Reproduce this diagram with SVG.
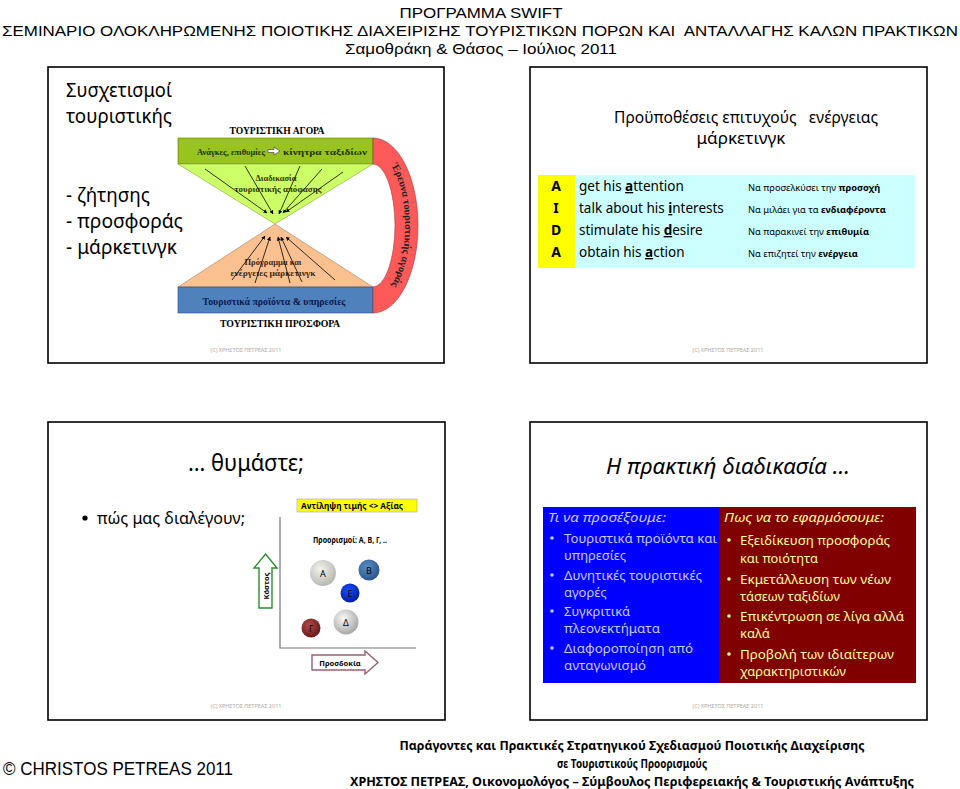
<svg xmlns="http://www.w3.org/2000/svg" width="960" height="789" viewBox="0 0 960 789">
<defs>
<style>
.hdr{font-family:"Liberation Sans",Arial,sans-serif;font-size:15.5px;fill:#000}
.cal{font-family:"Noto Sans","Open Sans",sans-serif;fill:#000}
.ser{font-family:"Liberation Serif","Times New Roman",serif;font-weight:bold}
.slide{fill:#fff;stroke:#000;stroke-width:1.6}
.copy{font-family:"Noto Sans",sans-serif;font-size:5.5px;fill:#aaa;text-anchor:middle}
.arr{stroke:#000;stroke-width:0.8;fill:none;marker-end:url(#ah)}
.b{font-weight:bold}
</style>
<marker id="ah" viewBox="0 0 10 10" refX="9" refY="5" markerWidth="5" markerHeight="5" orient="auto"><path d="M0,0 L10,5 L0,10 Z" fill="#000"/></marker>
<radialGradient id="gA" cx="40%" cy="35%" r="65%"><stop offset="0" stop-color="#f4f4f0"/><stop offset="1" stop-color="#b8b8b0"/></radialGradient>
<radialGradient id="gB" cx="40%" cy="35%" r="65%"><stop offset="0" stop-color="#5a8cc8"/><stop offset="1" stop-color="#2c5690"/></radialGradient>
<radialGradient id="gE" cx="40%" cy="35%" r="65%"><stop offset="0" stop-color="#1a4cff"/><stop offset="1" stop-color="#0020a0"/></radialGradient>
<radialGradient id="gD" cx="40%" cy="35%" r="65%"><stop offset="0" stop-color="#f8f8f8"/><stop offset="1" stop-color="#a8a8a8"/></radialGradient>
<radialGradient id="gG" cx="40%" cy="35%" r="65%"><stop offset="0" stop-color="#b04a4a"/><stop offset="1" stop-color="#6a1a1a"/></radialGradient>
</defs>
<rect width="960" height="789" fill="#fff"/>

<g id="header">
<text class="hdr" x="481" y="18" text-anchor="middle" textLength="163" lengthAdjust="spacingAndGlyphs">ΠΡΟΓΡΑΜΜΑ SWIFT</text>
<text class="hdr" x="480" y="36" text-anchor="middle" textLength="956" lengthAdjust="spacingAndGlyphs" xml:space="preserve">ΣΕΜΙΝΑΡΙΟ ΟΛΟΚΛΗΡΩΜΕΝΗΣ ΠΟΙΟΤΙΚΗΣ ΔΙΑΧΕΙΡΙΣΗΣ ΤΟΥΡΙΣΤΙΚΩΝ ΠΟΡΩΝ ΚΑΙ  ΑΝΤΑΛΛΑΓΗΣ ΚΑΛΩΝ ΠΡΑΚΤΙΚΩΝ</text>
<text class="hdr" x="481" y="54" text-anchor="middle" textLength="272" lengthAdjust="spacingAndGlyphs">Σαμοθράκη &amp; Θάσος – Ιούλιος 2011</text>
</g>

<!-- Slide 1 -->
<g id="slide1">
<rect class="slide" x="48" y="67" width="396" height="296"/>
<text class="cal" x="66" y="97" font-size="20" textLength="106" lengthAdjust="spacingAndGlyphs">Συσχετισμοί</text>
<text class="cal" x="66" y="123" font-size="20" textLength="106" lengthAdjust="spacingAndGlyphs">τουριστικής</text>
<text class="cal" x="66" y="202" font-size="20" textLength="84" lengthAdjust="spacingAndGlyphs">- ζήτησης</text>
<text class="cal" x="66" y="228" font-size="20" textLength="117" lengthAdjust="spacingAndGlyphs">- προσφοράς</text>
<text class="cal" x="66" y="254" font-size="20" textLength="111" lengthAdjust="spacingAndGlyphs">- μάρκετινγκ</text>
<text class="copy" x="246" y="352">(C) ΧΡΗΣΤΟΣ ΠΕΤΡΕΑΣ 2011</text>
</g>

<g id="market">
<text class="ser" x="277" y="134" font-size="10" text-anchor="middle" textLength="95" lengthAdjust="spacingAndGlyphs">ΤΟΥΡΙΣΤΙΚΗ ΑΓΟΡΑ</text>
<rect x="178" y="138" width="195" height="26" fill="#99c31e" stroke="#5a7a10" stroke-width="0.6"/>
<text class="ser" x="197" y="155" font-size="9" fill="#1a3300" textLength="68" lengthAdjust="spacingAndGlyphs">Ανάγκες, επιθυμίες</text>
<path d="M268,149.5 h6 v-2.5 l6,4 l-6,4 v-2.5 h-6 Z" fill="#fff" stroke="#333" stroke-width="0.6"/>
<text class="ser" x="283" y="155" font-size="9" fill="#1a3300" textLength="84" lengthAdjust="spacingAndGlyphs">κίνητρα ταξιδίων</text>
</g>

<g id="decision">
<polygon points="178,164 373,164 275,224" fill="#ccff66" stroke="#8aa040" stroke-width="0.6"/>
<text class="ser" x="276" y="181" font-size="8.5" fill="#333300" text-anchor="middle">Διαδικασία</text>
<text class="ser" x="278" y="192" font-size="8.5" fill="#333300" text-anchor="middle" textLength="87" lengthAdjust="spacingAndGlyphs">τουριστικής απόφασης</text>
</g>

<g id="program">
<polygon points="178,287 373,287 275,224" fill="#fac090" stroke="#b08060" stroke-width="0.6"/>
<text class="ser" x="273" y="265" font-size="8.5" fill="#3a2a10" text-anchor="middle">Πρόγραμμα και</text>
<text class="ser" x="273" y="276" font-size="8.5" fill="#3a2a10" text-anchor="middle" textLength="85" lengthAdjust="spacingAndGlyphs">ενέργειες μάρκετινγκ</text>
</g>

<g id="supply">
<rect x="178" y="287" width="195" height="26" fill="#4f81bd" stroke="#2a4a80" stroke-width="0.6"/>
<text class="ser" x="274" y="305" font-size="10.5" fill="#0a1850" text-anchor="middle" textLength="143" lengthAdjust="spacingAndGlyphs">Τουριστικά προϊόντα &amp; υπηρεσίες</text>
<text class="ser" x="280" y="327" font-size="10" text-anchor="middle" textLength="120" lengthAdjust="spacingAndGlyphs">ΤΟΥΡΙΣΤΙΚΗ ΠΡΟΣΦΟΡΑ</text>
</g>

<g id="research">
<path d="M373,138 A45,87.5 0 0 1 373,313 L373,287 A22,61.5 0 0 0 373,164 Z" fill="#ff5a5a" stroke="#a03030" stroke-width="0.6"/>
<path id="midarc" d="M373,150 A34.5,75.5 0 0 1 373,301" fill="none"/>
<text class="ser" font-size="10.5" fill="#222"><textPath href="#midarc" startOffset="50%" text-anchor="middle" dominant-baseline="middle">Έρευνα τουριστικής αγοράς</textPath></text>
</g>

<g id="connectors">
<line class="arr" x1="205" y1="169" x2="267" y2="213"/>
<line class="arr" x1="245" y1="166" x2="273" y2="214"/>
<line class="arr" x1="300" y1="166" x2="279" y2="214"/>
<line class="arr" x1="322" y1="169" x2="283" y2="213"/>
<line class="arr" x1="343" y1="172" x2="286" y2="212"/>
<line class="arr" x1="232" y1="280" x2="265" y2="236"/>
<line class="arr" x1="255" y1="283" x2="270" y2="237"/>
<line class="arr" x1="290" y1="283" x2="278" y2="237"/>
<line class="arr" x1="302" y1="282" x2="281" y2="237"/>
<line class="arr" x1="335" y1="280" x2="286" y2="237"/>
</g>

<!-- Slide 2 -->
<g id="slide2">
<rect class="slide" x="530" y="67" width="397" height="296"/>
<text class="cal" x="746" y="123" font-size="16" text-anchor="middle" textLength="264" lengthAdjust="spacingAndGlyphs" xml:space="preserve">Προϋποθέσεις επιτυχούς   ενέργειας</text>
<text class="cal" x="741" y="144" font-size="16" text-anchor="middle" textLength="89" lengthAdjust="spacingAndGlyphs">μάρκετινγκ</text>
<rect x="538" y="175" width="37" height="93" fill="#ffff00"/>
<rect x="575" y="175" width="340" height="93" fill="#ccffff"/>
<g class="cal" font-size="14">
<text class="b" x="556" y="191" text-anchor="middle">A</text>
<text class="b" x="556" y="213" text-anchor="middle">I</text>
<text class="b" x="556" y="235" text-anchor="middle">D</text>
<text class="b" x="556" y="257" text-anchor="middle">A</text>
<text x="579" y="191" font-size="13.5">get his <tspan class="b" text-decoration="underline">a</tspan>ttention</text>
<text x="579" y="213" font-size="13.5">talk about his <tspan class="b" text-decoration="underline">i</tspan>nterests</text>
<text x="579" y="235" font-size="13.5">stimulate his <tspan class="b" text-decoration="underline">d</tspan>esire</text>
<text x="579" y="257" font-size="13.5">obtain his <tspan class="b" text-decoration="underline">a</tspan>ction</text>
<text x="748" y="191" font-size="9.3">Να προσελκύσει την <tspan class="b">προσοχή</tspan></text>
<text x="748" y="213" font-size="9.3">Να μιλάει για τα <tspan class="b">ενδιαφέροντα</tspan></text>
<text x="748" y="235" font-size="9.3">Να παρακινεί την <tspan class="b">επιθυμία</tspan></text>
<text x="748" y="257" font-size="9.3">Να επιζητεί την <tspan class="b">ενέργεια</tspan></text>
</g>
<text class="copy" x="728" y="352">(C) ΧΡΗΣΤΟΣ ΠΕΤΡΕΑΣ 2011</text>
</g>

<!-- Slide 3 -->
<g id="slide3">
<rect class="slide" x="48" y="422" width="397" height="298"/>
<text class="cal" x="246" y="471" font-size="23" text-anchor="middle" textLength="116" lengthAdjust="spacingAndGlyphs">… θυμάστε;</text>
<circle cx="85" cy="518" r="2.6" fill="#000"/>
<text class="cal" x="97" y="524" font-size="16" textLength="148" lengthAdjust="spacingAndGlyphs">πώς μας διαλέγουν;</text>
<rect x="297" y="499" width="120" height="13" fill="#ffff00" stroke="#999" stroke-width="0.5"/>
<text class="cal b" x="301" y="509" font-size="8.5" textLength="102" lengthAdjust="spacingAndGlyphs">Αντίληψη τιμής &lt;&gt; Αξίας</text>
<polyline points="280,517 280,648 416,648" fill="none" stroke="#777" stroke-width="1.2"/>
<text class="cal b" x="350" y="543" font-size="8" text-anchor="middle" textLength="74" lengthAdjust="spacingAndGlyphs">Προορισμοί: Α, Β, Γ, ..</text>
<circle cx="323" cy="573" r="13" fill="url(#gA)"/>
<text class="cal" x="323" y="577" font-size="9" text-anchor="middle">Α</text>
<circle cx="369" cy="570" r="10.5" fill="url(#gB)"/>
<text class="cal" x="369" y="574" font-size="9" text-anchor="middle" fill="#cfe0f5">Β</text>
<circle cx="350" cy="593" r="9.5" fill="url(#gE)"/>
<text class="cal" x="350" y="597" font-size="9" text-anchor="middle" fill="#183070">Ε</text>
<circle cx="346" cy="622" r="12.5" fill="url(#gD)"/>
<text class="cal" x="346" y="626" font-size="9" text-anchor="middle">Δ</text>
<circle cx="311" cy="628" r="9.5" fill="url(#gG)"/>
<text class="cal" x="311" y="632" font-size="8.5" text-anchor="middle" fill="#e8a8a8">Γ</text>
<polygon points="265.5,554 277,568 272,568 272,608 259,608 259,568 254,568" fill="#fff" stroke="#2e8b2e" stroke-width="1.4"/>
<text class="cal b" transform="translate(268.5,586) rotate(-90)" font-size="7.5" text-anchor="middle">Κόστος</text>
<polygon points="312,655 365,655 365,651 378,662.5 365,674 365,670 312,670" fill="#fff" stroke="#9a6070" stroke-width="1.4"/>
<text class="cal b" x="340" y="665.5" font-size="7.5" text-anchor="middle">Προσδοκία</text>
<text class="copy" x="246" y="708">(C) ΧΡΗΣΤΟΣ ΠΕΤΡΕΑΣ 2011</text>
</g>

<!-- Slide 4 -->
<g id="slide4">
<rect class="slide" x="530" y="422" width="397" height="298"/>
<text class="cal" x="728" y="474" font-size="21" font-style="italic" text-anchor="middle" textLength="244" lengthAdjust="spacingAndGlyphs">Η πρακτική διαδικασία …</text>
<rect x="543" y="507" width="176" height="176" fill="#0000ff"/>
<rect x="719" y="507" width="197" height="176" fill="#800000"/>
<g class="cal" font-size="13" fill="#c8c8ff">
<text x="548" y="522" font-style="italic" fill="#c8c8ff" textLength="118" lengthAdjust="spacingAndGlyphs">Τι να προσέξουμε:</text>
<circle cx="552" cy="538" r="1.8" fill="#c8c8ff"/>
<text x="564" y="543" fill="#c8c8ff" textLength="153" lengthAdjust="spacingAndGlyphs">Τουριστικά προϊόντα και</text>
<text x="564" y="560" fill="#c8c8ff">υπηρεσίες</text>
<circle cx="552" cy="575" r="1.8" fill="#c8c8ff"/>
<text x="564" y="580" fill="#c8c8ff" textLength="138" lengthAdjust="spacingAndGlyphs">Δυνητικές τουριστικές</text>
<text x="564" y="597" fill="#c8c8ff">αγορές</text>
<circle cx="552" cy="611" r="1.8" fill="#c8c8ff"/>
<text x="564" y="616" fill="#c8c8ff">Συγκριτικά</text>
<text x="564" y="633" fill="#c8c8ff" textLength="96" lengthAdjust="spacingAndGlyphs">πλεονεκτήματα</text>
<circle cx="552" cy="648" r="1.8" fill="#c8c8ff"/>
<text x="564" y="653" fill="#c8c8ff" textLength="129" lengthAdjust="spacingAndGlyphs">Διαφοροποίηση από</text>
<text x="564" y="670" fill="#c8c8ff" textLength="82" lengthAdjust="spacingAndGlyphs">ανταγωνισμό</text>
</g>
<g class="cal" font-size="13" fill="#ffff99">
<text x="724" y="522" font-style="italic" fill="#ffff99" textLength="160" lengthAdjust="spacingAndGlyphs">Πως να το εφαρμόσουμε:</text>
<circle cx="729" cy="540" r="1.8" fill="#ffff99"/>
<text x="740" y="545" fill="#ffff99" textLength="150" lengthAdjust="spacingAndGlyphs">Εξειδίκευση προσφοράς</text>
<text x="740" y="563" fill="#ffff99" textLength="78" lengthAdjust="spacingAndGlyphs">και ποιότητα</text>
<circle cx="729" cy="579" r="1.8" fill="#ffff99"/>
<text x="740" y="584" fill="#ffff99" textLength="151" lengthAdjust="spacingAndGlyphs">Εκμετάλλευση των νέων</text>
<text x="740" y="601" fill="#ffff99" textLength="100" lengthAdjust="spacingAndGlyphs">τάσεων ταξιδίων</text>
<circle cx="729" cy="616" r="1.8" fill="#ffff99"/>
<text x="740" y="621" fill="#ffff99" textLength="164" lengthAdjust="spacingAndGlyphs">Επικέντρωση σε λίγα αλλά</text>
<text x="740" y="638" fill="#ffff99">καλά</text>
<circle cx="729" cy="654" r="1.8" fill="#ffff99"/>
<text x="740" y="659" fill="#ffff99" textLength="154" lengthAdjust="spacingAndGlyphs">Προβολή των ιδιαίτερων</text>
<text x="740" y="676" fill="#ffff99" textLength="106" lengthAdjust="spacingAndGlyphs">χαρακτηριστικών</text>
</g>
<text class="copy" x="728" y="708">(C) ΧΡΗΣΤΟΣ ΠΕΤΡΕΑΣ 2011</text>
</g>

<g id="footer">
<text x="3" y="775" font-family="Liberation Sans,Arial,sans-serif" font-size="18" textLength="230" lengthAdjust="spacingAndGlyphs">© CHRISTOS PETREAS 2011</text>
<g class="cal b" font-size="12.5" text-anchor="middle">
<text x="632" y="750" textLength="465" lengthAdjust="spacingAndGlyphs">Παράγοντες και Πρακτικές Στρατηγικού Σχεδιασμού Ποιοτικής Διαχείρισης</text>
<text x="632" y="768" textLength="150" lengthAdjust="spacingAndGlyphs">σε Τουριστικούς Προορισμούς</text>
<text x="632" y="786" textLength="564" lengthAdjust="spacingAndGlyphs">ΧΡΗΣΤΟΣ ΠΕΤΡΕΑΣ, Οικονομολόγος – Σύμβουλος Περιφερειακής &amp; Τουριστικής Ανάπτυξης</text>
</g>
</g>
</svg>
